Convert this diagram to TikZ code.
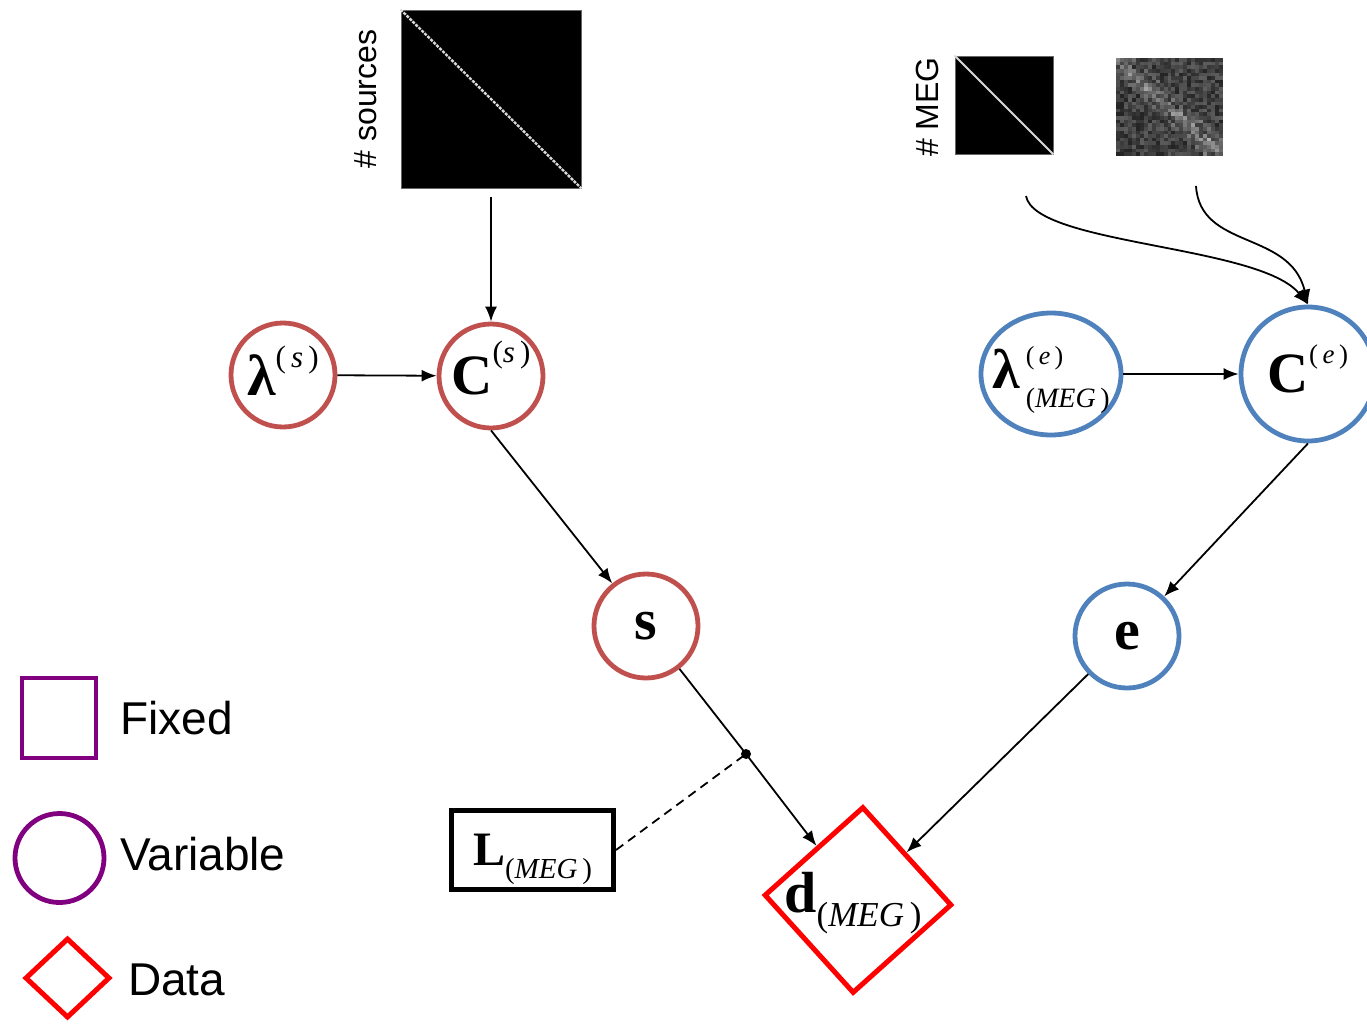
\documentclass[tikz,border=0pt]{standalone}
\usepackage{fontspec}
\usetikzlibrary{arrows.meta,shapes.geometric}
\newfontfamily\tnr{Liberation Serif}
\newfontfamily\arialf{Liberation Sans}
\definecolor{redc}{RGB}{192,80,77}
\definecolor{bluec}{RGB}{79,129,189}
\definecolor{purp}{RGB}{128,0,128}
\definecolor{datared}{RGB}{255,0,0}
\newcommand\fs[1]{\fontsize{#1}{#1}\selectfont}
\begin{document}
\begin{tikzpicture}[x=1pt,y=-1pt,
  var/.style={circle, draw=#1, line width=4.8pt, inner sep=0pt, minimum size=104pt},
  arr/.style={-{Latex[length=15pt,width=12pt]}, line width=1.8pt},
  mat/.style={rectangle, fill=black, draw=black!60, line width=0.8pt, inner sep=0pt},
  legtxt/.style={anchor=base west, inner sep=0pt, font=\arialf\fs{46}},
  rottxt/.style={anchor=base, rotate=90, inner sep=0pt, font=\arialf\fs{32}},
  datad/.style={diamond, draw=datared, line width=5pt, inner sep=0pt}]
\useasboundingbox (0,0) rectangle (1367,1023);

% matrices
\node[mat, minimum width=180pt, minimum height=178pt] (msrc) at (491,99) {};
\draw[white!85!black, line width=2.4pt, dash pattern=on 3pt off 1.2pt] (msrc.north west) -- (msrc.south east);
\node[rottxt] (tsrc) at (376,99) {\# sources};

\node[mat, minimum width=98pt, minimum height=98pt] (mmeg) at (1004,105) {};
\draw[white!85!black, line width=1.8pt] (mmeg.north west) -- (mmeg.south east);
\node[rottxt] (tmeg) at (938,107) {\# MEG};

\node[rectangle, inner sep=0pt, minimum width=107pt, minimum height=98pt] (mnoise) at (1169.5,107) {};
\pgfmathsetseed{11}
\foreach \i in {0,...,26}{
  \foreach \j in {0,...,26}{
    \pgfmathsetmacro\dd{abs(\i-\j)}
    \pgfmathsetmacro\g{int(14+24*rnd+14*rnd*(\dd<5)+26*(\dd<1.5)*rnd)}
    \fill[white!\g!black] (1116+\i*3.963, 58+\j*3.63) rectangle ++(4.0,3.7);
  }
}

% variables
\node[var=redc] (ls) at (283,375) {{\tnr\fs{58}\bfseries λ}\smash{\raisebox{28pt}{\tnr\fs{31}(\,\textit{s}\,)}}};
\node[var=redc] (Cs) at (491,376) {{\tnr\fs{57}\bfseries C}\smash{\raisebox{32pt}{\tnr\fs{31}(\textit{s}\,)}}};
\node[var=redc] (s) at (646,626) {\tnr\fs{58}\bfseries s};

\node[ellipse, draw=bluec, line width=4.8pt, inner sep=0pt, minimum width=140pt, minimum height=122pt] (le) at (1051,374)
  {\makebox[0pt][c]{\smash{\raisebox{-14pt}{{\tnr\fs{56}\bfseries λ}\kern6pt\raisebox{24pt}{\rlap{\tnr\fs{26}(\,\textit{e}\,)}}\raisebox{-19pt}{\tnr\fs{28}(\textit{MEG}\,)}}}}};
\node[var=bluec, minimum size=134pt] (Ce) at (1308,374) {{\tnr\fs{57}\bfseries C}\smash{\raisebox{29pt}{\tnr\fs{27}(\,\textit{e}\,)}}};
\node[var=bluec] (e) at (1127,636) {\tnr\fs{58}\bfseries e};

% fixed and data
\node[rectangle, draw=black, line width=5pt, inner sep=0pt, minimum width=162pt, minimum height=79pt] (L) at (532.5,850)
  {{\tnr\fs{48}\bfseries L}\smash{\raisebox{-13pt}{\tnr\fs{29}(\textit{MEG}\,)}}};
\node[datad, rotate=-3, minimum width=188pt, minimum height=187pt] (d) at (858,900) {};
\node[inner sep=0pt] (dtxt) at (853,893) {{\tnr\fs{58}\bfseries d}\smash{\raisebox{-14pt}{\tnr\fs{35}(\textit{MEG}\,)}}};

\coordinate (j) at (746,754);
\coordinate (c1) at (1026,196);
\coordinate (c2) at (1196,186);

% connectors
\draw[arr, shorten <=9pt] (msrc.south) -- (Cs);
\draw[arr] (ls) -- (Cs);
\draw[arr] (Cs.south) -- (s);
\draw[line width=1.8pt] (s) -- (j);
\draw[arr] (j) -- (d);
\draw[line width=1.8pt, dash pattern=on 9pt off 6pt] (L.east) -- (j);
\fill (j) circle (5);
\draw[arr] (le) -- (Ce);
\draw[arr] (Ce.south) -- (e);
\draw[arr] (e) -- (d);
\draw[arr] (c1) .. controls (1035,245) and (1260,245) .. (Ce.north);
\draw[arr] (c2) .. controls (1200,250) and (1290,230) .. (Ce.north);

% legend
\node[rectangle, draw=purp, line width=4.8pt, inner sep=0pt, minimum width=74pt, minimum height=80pt] (legsq) at (59,718) {};
\node[circle, draw=purp, line width=4.8pt, inner sep=0pt, minimum size=89pt] (legci) at (59.5,858) {};
\node[datad, minimum width=85pt, minimum height=80pt] (legdi) at (67.5,978) {};
\node[legtxt] (tfixed) at (120,734) {Fixed};
\node[legtxt] (tvar) at (120,870) {Variable};
\node[legtxt] (tdata) at (128,995) {Data};
\end{tikzpicture}
\end{document}
